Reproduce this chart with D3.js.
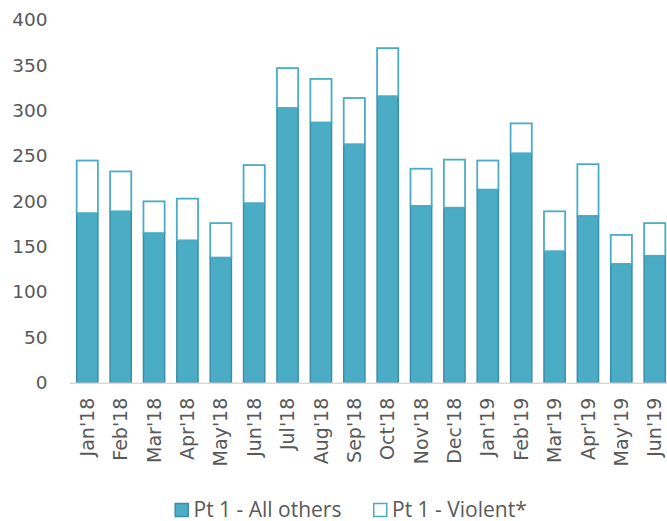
<!DOCTYPE html>
<html>
<head>
<meta charset="utf-8">
<script src="https://cdn.jsdelivr.net/npm/d3@7"></script>
<style>
  body { margin: 0; background: #fff; }
  svg { display: block; }
</style>
</head>
<body>
<div id="chart"></div>
<script>
// data
var months = ["Jan'18","Feb'18","Mar'18","Apr'18","May'18","Jun'18","Jul'18","Aug'18","Sep'18",
  "Oct'18","Nov'18","Dec'18","Jan'19","Feb'19","Mar'19","Apr'19","May'19","Jun'19"];
var allOthers = [187, 189, 165, 157, 138, 198, 303, 287, 263, 316, 195, 193, 213, 253, 145, 184, 131, 140];
var violent   = [58, 44, 35, 46, 38, 42, 44, 48, 51, 53, 41, 53, 32, 33, 44, 57, 32, 36];
var yTicks = [0, 50, 100, 150, 200, 250, 300, 350, 400];
var seriesNames = ["Pt 1 - All others", "Pt 1 - Violent*"];

var W = 667, H = 521;
var teal = "#4bacc6", tealDark = "#3a8fa6", textCol = "#595959";

var svg = d3.select("#chart").append("svg")
  .attr("width", W)
  .attr("height", H);

var x = d3.scaleBand()
  .domain(months)
  .range([70.6, 671.4])
  .paddingInner(0.32)
  .paddingOuter(0.16);

var y = d3.scaleLinear()
  .domain([0, 400])
  .range([382.7, 20]);

var data = months.map(function(m, i) {
  return {month: m, a: allOthers[i], v: violent[i]};
});

// y axis
var yAxis = d3.axisLeft(y).tickValues(yTicks).tickSize(0).tickPadding(23);
svg.append("g")
  .attr("transform", "translate(70.6,0)")
  .call(yAxis)
  .call(function(g) { g.select(".domain").remove(); })
  .selectAll("text")
  .attr("fill", textCol)
  .style("font-family", "DejaVu Sans")
  .style("font-size", "18.5px");

// bars - lower segment
svg.selectAll(".barA")
  .data(data)
  .enter().append("rect")
  .attr("class", "barA")
  .attr("x", function(d) { return x(d.month) + 0.75; })
  .attr("width", x.bandwidth() - 1.5)
  .attr("y", function(d) { return y(d.a); })
  .attr("height", function(d) { return y(0) - y(d.a); })
  .attr("fill", teal)
  .attr("stroke", tealDark)
  .attr("stroke-width", 1.5);

// bars - violent on top
svg.selectAll(".barV")
  .data(data)
  .enter().append("rect")
  .attr("class", "barV")
  .attr("x", function(d) { return x(d.month) + 0.75; })
  .attr("width", x.bandwidth() - 1.5)
  .attr("y", function(d) { return y(d.a + d.v); })
  .attr("height", function(d) { return y(d.a) - y(d.a + d.v); })
  .attr("fill", "#fff")
  .attr("stroke", teal)
  .attr("stroke-width", 1.8);

// x axis
var xAxis = d3.axisBottom(x).tickSize(0);
var gx = svg.append("g")
  .attr("transform", "translate(0," + y(0) + ")")
  .call(xAxis);
gx.select(".domain")
  .attr("d", "M70,0.5H667")
  .attr("stroke", "#d9d9d9")
  .attr("stroke-width", 1.5);
gx.selectAll("text")
  .attr("fill", textCol)
  .style("font-family", "DejaVu Sans")
  .style("font-size", "19px")
  .style("text-anchor", "end")
  .attr("x", -15)
  .attr("y", 0)
  .attr("dy", "0.35em")
  .attr("transform", "rotate(-90)");

// legend
var legend = svg.append("g").attr("class", "legend");
var lx = [174.5, 373];
seriesNames.forEach(function(name, i) {
  legend.append("rect")
    .attr("x", lx[i] + 0.75)
    .attr("y", 503.5)
    .attr("width", 13)
    .attr("height", 13)
    .attr("fill", i === 0 ? teal : "#fff")
    .attr("stroke", i === 0 ? tealDark : teal)
    .attr("stroke-width", 1.5);
  legend.append("text")
    .attr("x", lx[i] + 19)
    .attr("y", 516.5)
    .attr("fill", textCol)
    .style("font-family", "Open Sans")
    .style("font-size", "21px")
    .text(name);
});
</script>
</body>
</html>
